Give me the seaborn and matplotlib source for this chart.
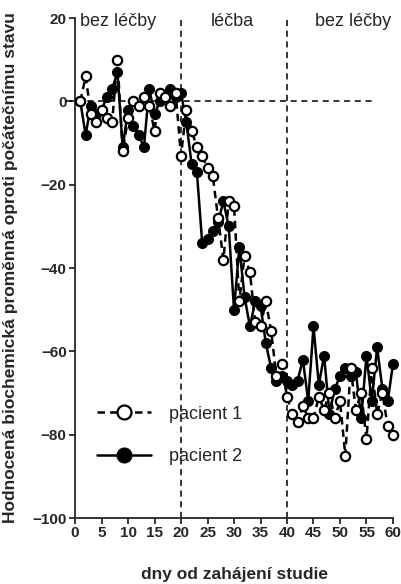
import matplotlib
matplotlib.use("Agg")
import matplotlib.pyplot as plt
import seaborn as sns
import numpy as np

# days of the study
days = list(range(1, 61))

# patient 1 (open circles, dashed line)
pacient1 = [0, 6, -3, -5, -2, -4, -5, 10, -12, -4,
            0, -1, 1, -1, -7, 2, 1, -1, 2, -13,
            -2, -7, -11, -13, -16, -18, -28, -38, -24, -25,
            -48, -37, -41, -53, -54, -48, -55, -66, -63, -71,
            -75, -77, -73, -76, -76, -71, -74, -70, -76, -72,
            -85, -64, -74, -70, -81, -64, -75, -70, -78, -80]

# patient 2 (filled circles, solid line)
pacient2 = [0, -8, -1, -3, -2, 1, 3, 7, -11, -2,
            -6, -8, -11, 3, -3, 0, 1, 3, 1, 2,
            -5, -15, -17, -34, -33, -31, -29, -24, -30, -50,
            -35, -47, -54, -48, -49, -58, -64, -67, -66, -67,
            -68, -67, -62, -72, -54, -68, -61, -75, -69, -66,
            -64, -66, -65, -76, -61, -72, -59, -69, -72, -63]

x_ticks = list(range(0, 61, 5))
y_ticks = list(range(-100, 21, 20))
phases = ["bez léčby", "léčba", "bez léčby"]

sns.set_style("ticks")
plt.rcParams['font.family'] = ['Liberation Sans', 'DejaVu Sans']

fig = plt.figure(figsize=(4.02, 5.84), dpi=100)
ax = fig.add_axes([0.1866, 0.113, 0.7910, 0.856])

# phase separators and zero line
ax.axvline(20, color='k', lw=1.1, ls=(0, (4, 3)), zorder=1)
ax.axvline(40, color='k', lw=1.1, ls=(0, (4, 3)), zorder=1)
ax.plot([-1.7, 56.5], [0, 0], color='k', lw=1.1, ls=(0, (4, 3)), clip_on=False, zorder=1)

sns.lineplot(x=days, y=pacient2, ax=ax, color='k', lw=1.8, marker='o',
             markersize=7.2, markerfacecolor='k', markeredgecolor='k',
             label='pacient 2', zorder=3, clip_on=False)
sns.lineplot(x=days, y=pacient1, ax=ax, color='k', lw=1.8, linestyle=(0, (3, 2)),
             marker='o', markersize=6.7, markerfacecolor='white',
             markeredgecolor='k', markeredgewidth=1.6, label='pacient 1',
             zorder=4, clip_on=False)

ax.set_xlim(0, 60)
ax.set_ylim(-100, 20)
ax.set_xticks(x_ticks)
ax.set_yticks(y_ticks)
ax.tick_params(axis='both', direction='out', length=4, width=1.3, pad=2, labelsize=11)
for lab in ax.get_xticklabels() + ax.get_yticklabels():
    lab.set_fontweight('bold')
sns.despine(ax=ax)
ax.spines['left'].set_linewidth(1.3)
ax.spines['bottom'].set_linewidth(1.3)

ax.set_xlabel('dny od zahájení studie', fontsize=12.5, fontweight='bold', labelpad=19)
ax.set_ylabel('Hodnocená biochemická proměnná oproti počátečnímu stavu',
              fontsize=12.5, fontweight='bold')
ax.yaxis.set_label_coords(-0.178, 0.5)

ax.text(0.9, 19.3, phases[0], fontsize=13, va='center', ha='left')
ax.text(29.6, 19.3, phases[1], fontsize=13, va='center', ha='center')
ax.text(45.3, 19.3, phases[2], fontsize=13, va='center', ha='left')

handles, labels = ax.get_legend_handles_labels()
order = [labels.index('pacient 1'), labels.index('pacient 2')]
ax.legend([handles[i] for i in order], [labels[i] for i in order],
          loc='lower left', bbox_to_anchor=(0.069, 0.106), frameon=False,
          fontsize=13, handlelength=3.0, handletextpad=1.0, labelspacing=1.4,
          borderpad=0, borderaxespad=0, markerscale=1.5)

fig.savefig('out.png', dpi=100)
